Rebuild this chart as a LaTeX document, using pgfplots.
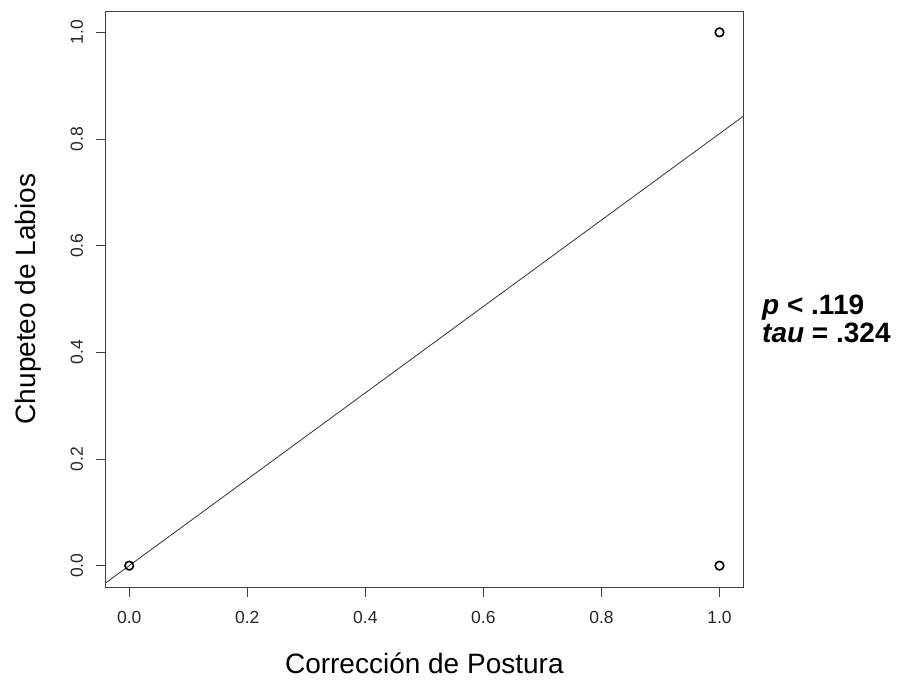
\documentclass[border=0pt]{standalone}
\usepackage{pgfplots}
\pgfplotsset{compat=1.18}
\usepackage{fontspec}
\setmainfont{Liberation Sans}
\begin{document}
\begin{tikzpicture}
\useasboundingbox (-105.6pt,-93pt) rectangle (793.4pt,587pt);
\begin{axis}[
  at={(0pt,0pt)}, anchor=south west,
  scale only axis, width=637.5pt, height=576pt,
  xmin=-0.04, xmax=1.04, ymin=-0.04, ymax=1.04,
  axis line style={black!75, line width=0.9pt},
  xtick={0,0.2,...,1.0}, ytick={0,0.2,...,1.0},
  xticklabels={0.0,0.2,0.4,0.6,0.8,1.0},
  yticklabels={0.0,0.2,0.4,0.6,0.8,1.0},
  tick align=outside, tick pos=left,
  major tick length=10pt,
  tick style={black!75, line width=0.9pt},
  ticklabel style={font=\fontsize{17.5}{20}\selectfont, text=black!85},
  /pgf/number format/assume math mode=true,
  yticklabel style={rotate=90, anchor=south},
  xticklabel shift=11pt,
  yticklabel shift=9pt,
  xlabel={Corrección de Postura},
  ylabel={Chupeteo de Labios},
  label style={font=\fontsize{28}{32}\selectfont},
  xlabel style={at={(axis description cs:0.5,-0.132)}, anchor=center},
  ylabel style={at={(axis description cs:-0.1217,0.5)}, anchor=center, rotate=0},
  clip=true,
]
\addplot[black!80, line width=0.8pt] coordinates {(-0.04,-0.0324) (1.04,0.8424)};
\addplot[only marks, mark=o, mark size=4.3pt, black, mark options={line width=1.6pt}] coordinates {(0,0) (1,1) (1,0)};
\end{axis}
\node[anchor=base west, font=\fontsize{28}{32}\selectfont\bfseries, inner sep=0pt] at (656.4pt,272pt) {\textit{p} < .119};
\node[anchor=base west, font=\fontsize{28}{32}\selectfont\bfseries, inner sep=0pt] at (656.4pt,244pt) {\textit{tau} = .324};
\end{tikzpicture}
\end{document}
